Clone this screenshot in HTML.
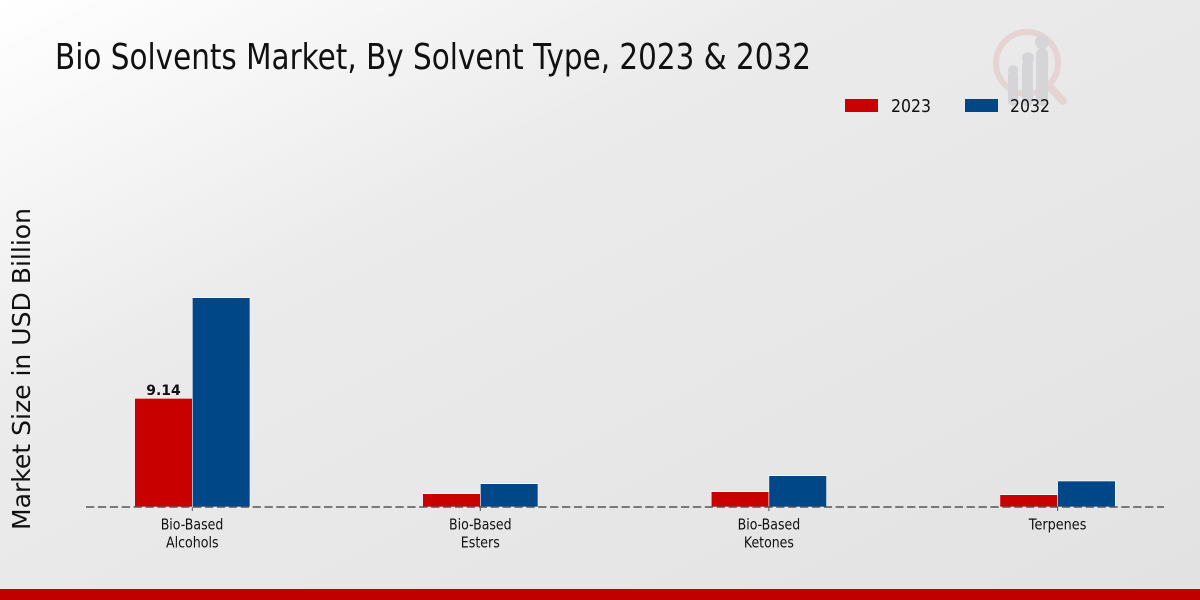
<!DOCTYPE html>
<html><head><meta charset="utf-8"><style>
html,body{margin:0;padding:0;width:1200px;height:600px;overflow:hidden;}
svg{display:block;}
text{font-family:"DejaVu Sans","Liberation Sans",sans-serif;}
</style></head><body>
<svg width="1200" height="600" viewBox="0 0 1200 600" xmlns="http://www.w3.org/2000/svg">
<defs>
<linearGradient id="bg" x1="0" y1="0" x2="1" y2="1">
<stop offset="0" stop-color="#ffffff"/>
<stop offset="0.35" stop-color="#ebebeb"/>
<stop offset="1" stop-color="#e2e2e2"/>
</linearGradient>
</defs>
<rect x="0" y="0" width="1200" height="600" fill="url(#bg)"/>
<!-- logo -->
<g opacity="0.85">
<circle cx="1027" cy="63" r="31" fill="none" stroke="#e6d0d0" stroke-width="6"/>
<line x1="1050" y1="87" x2="1063" y2="101" stroke="#e6d0d0" stroke-width="8" stroke-linecap="round"/>
<rect x="1008" y="70" width="10" height="36" rx="5" fill="#d2d2d6"/>
<circle cx="1013" cy="70" r="5" fill="#d2d2d6"/>
<rect x="1022" y="60" width="11" height="46" rx="5" fill="#d2d2d6"/>
<circle cx="1028" cy="58" r="6" fill="#d2d2d6"/>
<rect x="1036" y="48" width="12" height="58" rx="6" fill="#d2d2d6"/>
<circle cx="1042" cy="42" r="7" fill="#d2d2d6"/>
</g>
<!-- title -->
<text x="55" y="69" font-size="36" fill="#111" textLength="756" lengthAdjust="spacingAndGlyphs">Bio Solvents Market, By Solvent Type, 2023 &amp; 2032</text>
<!-- legend -->
<rect x="845" y="99" width="33" height="13" fill="#c80000"/>
<text x="891" y="112" font-size="18" fill="#111" textLength="40" lengthAdjust="spacingAndGlyphs">2023</text>
<rect x="965" y="99" width="33" height="13" fill="#004787"/>
<text x="1010" y="112" font-size="18" fill="#111" textLength="40" lengthAdjust="spacingAndGlyphs">2032</text>
<!-- y axis label -->
<text transform="translate(30,369) rotate(-90)" text-anchor="middle" font-size="25" fill="#111" textLength="322" lengthAdjust="spacingAndGlyphs">Market Size in USD Billion</text>
<!-- bars -->
<g stroke="#ffffff" stroke-width="0.6">
<rect x="134.6" y="398.3" width="57.7" height="108.7" fill="#c80000"/>
<rect x="192.3" y="297.7" width="57.7" height="209.3" fill="#004787"/>
<rect x="422.6" y="493.7" width="57.7" height="13.3" fill="#c80000"/>
<rect x="480.3" y="483.7" width="57.7" height="23.3" fill="#004787"/>
<rect x="711.2" y="491.7" width="57.7" height="15.3" fill="#c80000"/>
<rect x="768.9" y="475.7" width="57.7" height="31.3" fill="#004787"/>
<rect x="999.9" y="494.7" width="57.7" height="12.3" fill="#c80000"/>
<rect x="1057.6" y="481" width="57.7" height="26" fill="#004787"/>
</g>
<!-- baseline -->
<line x1="86" y1="507" x2="1164" y2="507" stroke="#555" stroke-width="1.5" stroke-dasharray="8.3,3.6"/>
<g stroke="#555" stroke-width="1">
<line x1="192.3" y1="507" x2="192.3" y2="511"/>
<line x1="480.3" y1="507" x2="480.3" y2="511"/>
<line x1="768.9" y1="507" x2="768.9" y2="511"/>
<line x1="1057.6" y1="507" x2="1057.6" y2="511"/>
</g>
<!-- value label -->
<text x="163.5" y="395" font-size="14" font-weight="bold" fill="#111" text-anchor="middle">9.14</text>
<!-- tick labels -->
<g font-size="15" fill="#111" text-anchor="middle">
<text x="192" y="529.3" textLength="62.6" lengthAdjust="spacingAndGlyphs">Bio-Based</text>
<text x="192.3" y="547.7" textLength="52.7" lengthAdjust="spacingAndGlyphs">Alcohols</text>
<text x="480.3" y="529.3" textLength="62.6" lengthAdjust="spacingAndGlyphs">Bio-Based</text>
<text x="480.3" y="547.7" textLength="39" lengthAdjust="spacingAndGlyphs">Esters</text>
<text x="768.9" y="529.3" textLength="62.6" lengthAdjust="spacingAndGlyphs">Bio-Based</text>
<text x="768.9" y="547.7" textLength="50" lengthAdjust="spacingAndGlyphs">Ketones</text>
<text x="1057.6" y="529.3" textLength="57.6" lengthAdjust="spacingAndGlyphs">Terpenes</text>
</g>
<!-- bottom band -->
<rect x="0" y="589" width="1200" height="11" fill="#c00000"/>
</svg>
</body></html>
